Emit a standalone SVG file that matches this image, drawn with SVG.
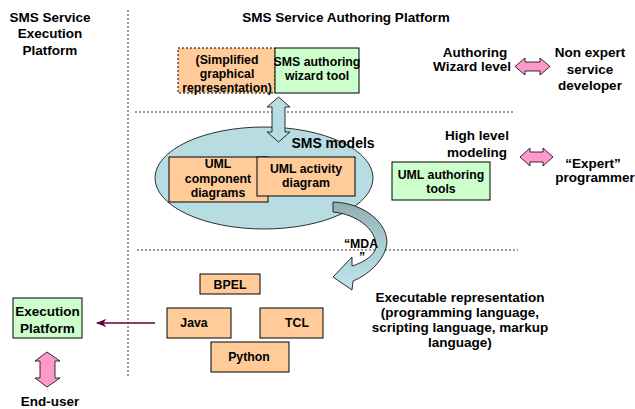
<svg xmlns="http://www.w3.org/2000/svg" width="635" height="409" viewBox="0 0 635 409">
<style>
text{font-family:"Liberation Sans",Arial,sans-serif;font-weight:bold;font-size:13.5px;fill:#000;text-anchor:middle}
.s11{font-size:12.3px}
.orange{fill:#FFCC99;stroke:#000;stroke-width:1}
.green{fill:#CCFFCC;stroke:#000;stroke-width:1}
.dot{stroke:#333;stroke-width:1;stroke-dasharray:2,2;fill:none}
.pink{fill:#FF99CC;stroke:#000;stroke-width:0.8}
.blue{fill:#B7DDE3;stroke:#000;stroke-width:0.8}
</style>
<defs>
<marker id="ah" viewBox="0 0 10 10" refX="9" refY="5" markerWidth="7" markerHeight="7" orient="auto"><path d="M0,1 L10,5 L0,9 L3,5 Z" fill="#660033"/></marker>
<linearGradient id="mda" x1="0" y1="0" x2="0" y2="1"><stop offset="0" stop-color="#8FAEB2"/><stop offset="0.45" stop-color="#A9CDD3"/><stop offset="1" stop-color="#BFE4EA"/></linearGradient>
</defs>
<g id="separators">
<line class="dot" x1="128" y1="10" x2="128" y2="377"/>
<line class="dot" x1="135" y1="112" x2="515" y2="112"/>
<line class="dot" x1="137" y1="250" x2="518" y2="250"/>
</g>
<g id="titles">
<text x="50" y="22">SMS Service</text>
<text x="50" y="38">Execution</text>
<text x="50" y="55">Platform</text>
<text x="346" y="22">SMS Service Authoring Platform</text>
</g>
<g id="simplified">
<rect x="178" y="48" width="97" height="45" fill="#FFCC99" stroke="#000" stroke-dasharray="2,2"/>
<text class="s11" x="227" y="64">(Simplified</text>
<text class="s11" x="227" y="78">graphical</text>
<text class="s11" x="227" y="92">representation)</text>
</g>
<g id="wizard">
<rect class="green" x="275" y="48" width="84" height="45"/>
<text class="s11" x="317" y="66">SMS authoring</text>
<text class="s11" x="317" y="80">wizard tool</text>
</g>
<g id="sms-models">
<ellipse class="blue" cx="264" cy="178" rx="109" ry="51"/>
<text x="333" y="148" style="font-size:14px">SMS models</text>
</g>
<g id="uml-component">
<rect class="orange" x="169" y="157" width="99" height="45"/>
<text class="s11" x="218" y="168">UML</text>
<text class="s11" x="218" y="183">component</text>
<text class="s11" x="218" y="197">diagrams</text>
</g>
<g id="uml-activity">
<rect class="orange" x="257" y="157" width="98" height="39"/>
<text class="s11" x="306" y="173">UML activity</text>
<text class="s11" x="306" y="187">diagram</text>
</g>
<g id="uml-tools">
<rect class="green" x="392" y="162" width="98" height="38"/>
<text class="s11" x="441" y="179">UML authoring</text>
<text class="s11" x="441" y="193">tools</text>
</g>
<g id="bpel"><rect class="orange" x="200" y="274" width="60" height="20"/><text class="s11" x="230" y="289">BPEL</text></g>
<g id="java"><rect class="orange" x="167" y="308" width="64" height="30"/><text class="s11" x="194" y="327">Java</text></g>
<g id="tcl"><rect class="orange" x="260" y="308" width="63" height="30"/><text class="s11" x="297" y="327">TCL</text></g>
<g id="python"><rect class="orange" x="211" y="342" width="78" height="30"/><text class="s11" x="249" y="361">Python</text></g>
<g id="exec-platform">
<rect class="green" x="13" y="298" width="69" height="40"/>
<text x="47.5" y="316">Execution</text>
<text x="47.5" y="333">Platform</text>
</g>
<g id="end-user"><text x="50" y="406">End-user</text></g>
<g id="connectors">
<path class="blue" d="M272,107 L267,107 L278.5,97 L290,107 L285,107 L285,132 L290,132 L278.5,142 L267,132 L272,132 Z"/>
<path d="M333,202 C368,203 392,228 386,248 C382,262 368,275 353,281 L352,290 L333,277 L352,257 L352,266 C365,262 376,254 376,246 C376,228 355,214 333,212 Z" fill="url(#mda)" stroke="#000" stroke-width="0.8"/>
<line x1="155" y1="323" x2="97" y2="323" stroke="#660033" stroke-width="1.5" marker-end="url(#ah)"/>
<path class="pink" d="M35,361 L47,352 L60,361 L55,361 L55,378 L60,378 L47,387 L35,378 L40,378 L40,361 Z"/>
<path class="pink" d="M515,66.5 L525,58 L525,62 L540,62 L540,58 L550,66.5 L540,75 L540,71 L525,71 L525,75 Z"/>
<path class="pink" d="M520,157 L530,148 L530,152 L543,152 L543,148 L553,157 L543,166 L543,162 L530,162 L530,166 Z"/>
</g>
<g id="labels">
<text x="475" y="57">Authoring</text>
<text x="472" y="71">Wizard level</text>
<text x="590" y="57">Non expert</text>
<text x="590" y="74">service</text>
<text x="590" y="90">developer</text>
<text x="477" y="140">High level</text>
<text x="477" y="157">modeling</text>
<text x="593" y="168">“Expert”</text>
<text x="595" y="182">programmer</text>
<text x="460" y="302">Executable representation</text>
<text x="460" y="317">(programming language,</text>
<text x="460" y="332">scripting language, markup</text>
<text x="460" y="347">language)</text>
<text class="s11" x="361" y="248">“MDA</text>
<text class="s11" x="362" y="261">”</text>
</g>
</svg>
